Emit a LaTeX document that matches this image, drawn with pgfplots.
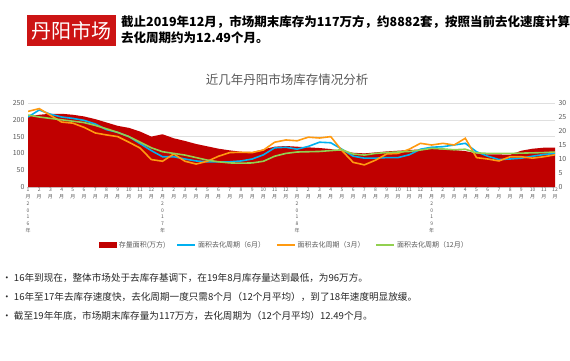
\documentclass[border=0pt]{standalone}
\usepackage{pgfplots}
\pgfplotsset{compat=1.18}
\usepackage{pgfplotstable}
\usepackage{fontspec}
\setmainfont{Noto Sans CJK SC}
\definecolor{areared}{HTML}{C00000}
\definecolor{headred}{HTML}{CC1414}
\definecolor{lblue}{HTML}{00B0F0}
\definecolor{lorange}{HTML}{FF9A10}
\definecolor{lgreen}{HTML}{92D050}
\definecolor{txtgray}{HTML}{595959}
\newcommand{\M}[1]{\shortstack{#1\\月}}
\newcommand{\Y}[4]{\shortstack{1\\月\\#1\\#2\\#3\\#4\\年}}
\pgfplotstableread{
i area m6 m3 m12
0 210 25 27 25.7
1 215 27.5 28 25
2 218 26 25.6 24.5
3 218 25 23.2 24
4 215 24.5 22.8 23.5
5 210 23.8 21.3 23
6 202 22.5 19.3 22
7 192 20.5 18.6 20.8
8 182 19.5 18 19.5
9 176 18 16 18
10 165 15.5 13.9 16
11 150 13 9.8 14
12 157 10.8 9.2 12.6
13 145 10.8 11.8 12
14 137 10 9.2 11.4
15 128 9.3 8.2 10.5
16 121 9 9.2 9.6
17 114 9 11 9
18 109 9 12.3 8.6
19 105 9.3 12.4 8.5
20 104 10 12.3 8.6
21 112 11.5 13.2 9.2
22 120 14 16 11
23 122 14.2 16.8 12
24 120 13.5 16.5 12.5
25 118 14.5 17.8 12.6
26 116 16 17.5 12.7
27 113 15.8 18 13
28 107 13.5 13 13.3
29 102 11 8.8 11.8
30 100 10.3 7.9 11.4
31 103 10.3 9.6 12
32 106 10.5 11.8 12.3
33 108 10.5 12 12.5
34 110 11.5 13.5 12.7
35 112 13.5 15.6 13.2
36 113 14.2 15 13.8
37 112 14.4 15.6 13.6
38 110 15 15 13.3
39 107 15.6 17.4 13.5
40 100 12.6 10.5 12.2
41 97 11 10 12
42 97 9.8 9.3 12
43 96 10 10.8 12
44 108 10.3 10.8 12.1
45 114 11 10.3 12.2
46 117 11.6 10.8 12.3
47 117 12 11.5 12.49
}\datatable
\begin{document}
\begin{tikzpicture}[x=1pt,y=1pt]
\useasboundingbox (0,0) rectangle (570,360);
% header
\fill[headred] (27,314) rectangle (116,345);
\node[white, font=\fontsize{20}{20}\selectfont, inner sep=0pt] at (71.5,329.5) {丹阳市场};
\node[anchor=base west, inner sep=0pt, font=\fontsize{12.5}{14}\selectfont\bfseries] at (121,333.5) {截止2019年12月，市场期末库存为117万方，约8882套，按照当前去化速度计算};
\node[anchor=base west, inner sep=0pt, font=\fontsize{12.5}{14}\selectfont\bfseries] at (121,317.5) {去化周期约为12.49个月。};
% chart title
\node[txtgray, font=\fontsize{12.5}{14}\selectfont] at (287,280) {近几年丹阳市场库存情况分析};
% bullets
\node[anchor=base west, inner sep=0pt, font=\fontsize{9.6}{11}\selectfont, black!85] at (2,79) {• 16年到现在，整体市场处于去库存基调下，在19年8月库存量达到最低，为96万方。};
\node[anchor=base west, inner sep=0pt, font=\fontsize{9.6}{11}\selectfont, black!85] at (2,59.5) {• 16年至17年去库存速度快，去化周期一度只需8个月（12个月平均），到了18年速度明显放缓。};
\node[anchor=base west, inner sep=0pt, font=\fontsize{9.6}{11}\selectfont, black!85] at (2,40.5) {• 截至19年年底，市场期末库存量为117万方，去化周期为（12个月平均）12.49个月。};
\begin{axis}[
  at={(28pt,173pt)}, anchor=south west,
  width=527pt, height=84pt, scale only axis,
  xmin=0, xmax=47, ymin=0, ymax=250,
  ytick={0,50,...,250},
  ymajorgrids, grid style={gray!25, line width=0.5pt},
  axis x line*=bottom, axis y line*=left,
  x axis line style={draw=cyan!15!gray!40, line width=0.8pt},
  y axis line style={draw=none},
  major tick length=0pt,
  xtick={0,...,47},
  xticklabels={\Y2016,\M2,\M3,\M4,\M5,\M6,\M7,\M8,\M9,\M{10},\M{11},\M{12},
               \Y2017,\M2,\M3,\M4,\M5,\M6,\M7,\M8,\M9,\M{10},\M{11},\M{12},
               \Y2018,\M2,\M3,\M4,\M5,\M6,\M7,\M8,\M9,\M{10},\M{11},\M{12},
               \Y2019,\M2,\M3,\M4,\M5,\M6,\M7,\M8,\M9,\M{10},\M{11},\M{12}},
  xticklabel style={font=\fontsize{5}{5.6}\selectfont, txtgray, anchor=north, inner sep=1pt},
  yticklabel style={font=\fontsize{7}{8}\selectfont, txtgray},
  /pgf/number format/assume math mode=true,
  clip=false,
]
\addplot[fill=areared, draw=none] table[x=i, y=area] {\datatable} \closedcycle;
\end{axis}
\begin{axis}[
  at={(28pt,173pt)}, anchor=south west,
  width=527pt, height=84pt, scale only axis,
  xmin=0, xmax=47, ymin=0, ymax=30,
  ytick={0,5,...,30},
  axis x line=none, axis y line*=right,
  y axis line style={draw=none},
  major tick length=0pt,
  yticklabel style={font=\fontsize{7}{8}\selectfont, txtgray},
  /pgf/number format/assume math mode=true,
  legend columns=4,
  legend style={draw=none, fill=none, at={(0.487,-0.69)}, anchor=center,
    font=\fontsize{7}{8}\selectfont, text=txtgray,
    /tikz/every even column/.append style={column sep=9pt}},
  legend image code/.code={\draw[#1] (0pt,0pt) -- (18pt,0pt);},
]
\addlegendimage{legend image code/.code={\fill[areared] (0pt,-2.5pt) rectangle (17pt,2.5pt);}}
\addlegendentry{存量面积(万方)}
\addplot[lblue, line width=1.6pt] table[x=i, y=m6] {\datatable};
\addlegendentry{面积去化周期（6月）}
\addplot[lorange, line width=1.6pt] table[x=i, y=m3] {\datatable};
\addlegendentry{面积去化周期（3月）}
\addplot[lgreen, line width=1.6pt] table[x=i, y=m12] {\datatable};
\addlegendentry{面积去化周期（12月）}
\end{axis}
\end{tikzpicture}
\end{document}
